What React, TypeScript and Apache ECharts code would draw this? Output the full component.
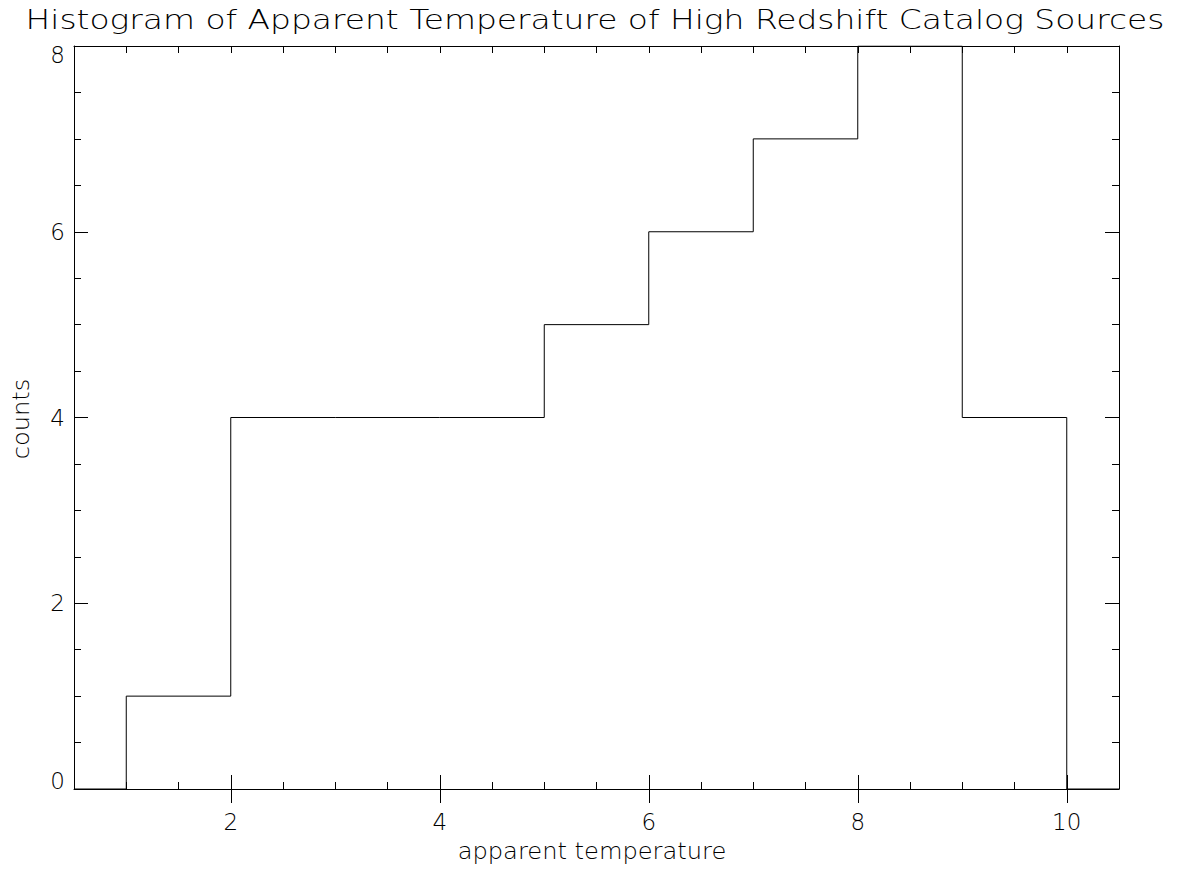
import React, { useEffect, useRef } from "react";
import * as echarts from "echarts";

// Histogram bins: left edges and counts per unit-wide bin
const binLeftEdges = [1, 2, 3, 4, 5, 6, 7, 8, 9];
const binCounts = [1, 4, 4, 4, 5, 6, 7, 8, 4];
const binWidth = 1;

// Axis ranges and tick values
const xRange = [0.5, 10.5];
const yRange = [0, 8];
const xMajorTicks = [2, 4, 6, 8, 10];
const yMajorStep = 2;
const minorStep = 0.5;

const titleText = "Histogram of Apparent Temperature of High Redshift Catalog Sources";
const xLabel = "apparent temperature";
const yLabel = "counts";

const FONT = '"DejaVu Sans"';

export default function App() {
  const ref = useRef<HTMLDivElement>(null);

  useEffect(() => {
    if (!ref.current) return;
    const chart = echarts.init(ref.current, null, { renderer: "svg" });

    // step outline of the histogram, running along zero outside the bins
    const lastEdge = binLeftEdges[binLeftEdges.length - 1] + binWidth;
    const stepData: number[][] = [[xRange[0], 0]];
    binLeftEdges.forEach((e, i) => stepData.push([e, binCounts[i]]));
    stepData.push([lastEdge, 0]);
    stepData.push([xRange[1], 0]);

    const lineStyle = { color: "#000", width: 1 };
    const labelStyle = { color: "#000", fontFamily: "DejaVu Sans", fontSize: 23, fontWeight: 200 as any };

    const minorX = (pos: "bottom" | "top", labels: boolean) => ({
      type: "value",
      position: pos,
      min: xRange[0],
      max: xRange[1],
      interval: minorStep,
      axisLine: { show: true, onZero: false, lineStyle },
      axisTick: { show: true, inside: true, length: 7, lineStyle },
      axisLabel: labels
        ? {
            show: true,
            ...labelStyle,
            margin: 21,
            customValues: xMajorTicks,
            formatter: (v: number) => String(v),
          }
        : { show: false },
      splitLine: { show: false },
    });
    const majorX = (pos: "bottom" | "top") => ({
      type: "value",
      position: pos,
      min: xRange[0],
      max: xRange[1],
      axisLine: { show: false },
      axisTick: { show: true, inside: true, length: 14, lineStyle, customValues: xMajorTicks },
      axisLabel: { show: false },
      splitLine: { show: false },
    });
    const yAxisDef = (pos: "left" | "right", labels: boolean) => ({
      type: "value",
      position: pos,
      min: yRange[0],
      max: yRange[1],
      interval: yMajorStep,
      axisLine: { show: true, onZero: false, lineStyle },
      axisTick: { show: true, inside: true, length: 14, lineStyle },
      minorTick: { show: true, splitNumber: yMajorStep / minorStep, length: 7, lineStyle },
      axisLabel: labels
        ? {
            show: true,
            ...labelStyle,
            lineHeight: 17,
            margin: 9,
            verticalAlignMinLabel: "bottom",
            verticalAlignMaxLabel: "top",
          }
        : { show: false },
      splitLine: { show: false },
      minorSplitLine: { show: false },
    });

    chart.setOption({
      animation: false,
      backgroundColor: "#fff",
      grid: { left: 74, right: 65, top: 46, bottom: 82, containLabel: false },
      xAxis: [minorX("bottom", true), majorX("bottom"), minorX("top", false), majorX("top")],
      yAxis: [yAxisDef("left", true), yAxisDef("right", false)],
      graphic: [
        {
          type: "text",
          x: 595,
          y: 33,
          scaleX: 1.218,
          style: {
            text: titleText,
            fill: "#000",
            font: `200 27px ${FONT}`,
            align: "center",
            verticalAlign: "bottom",
          },
        },
        {
          type: "text",
          x: 592,
          y: 851,
          scaleX: 1.05,
          style: {
            text: xLabel,
            fill: "#000",
            font: `200 23px ${FONT}`,
            align: "center",
            verticalAlign: "middle",
          },
        },
        {
          type: "text",
          x: 21,
          y: 419,
          rotation: Math.PI / 2,
          scaleX: 1.05,
          style: {
            text: yLabel,
            fill: "#000",
            font: `200 23px ${FONT}`,
            align: "center",
            verticalAlign: "middle",
          },
        },
      ],
      series: [
        {
          type: "line",
          xAxisIndex: 0,
          yAxisIndex: 0,
          step: "end",
          data: stepData,
          showSymbol: false,
          symbol: "none",
          lineStyle: { color: "#000", width: 1 },
          silent: true,
        },
      ],
    });

    return () => chart.dispose();
  }, []);

  return (
    <div
      ref={ref}
      style={{ position: "fixed", left: 0, top: 0, width: 1184, height: 871 }}
    />
  );
}
